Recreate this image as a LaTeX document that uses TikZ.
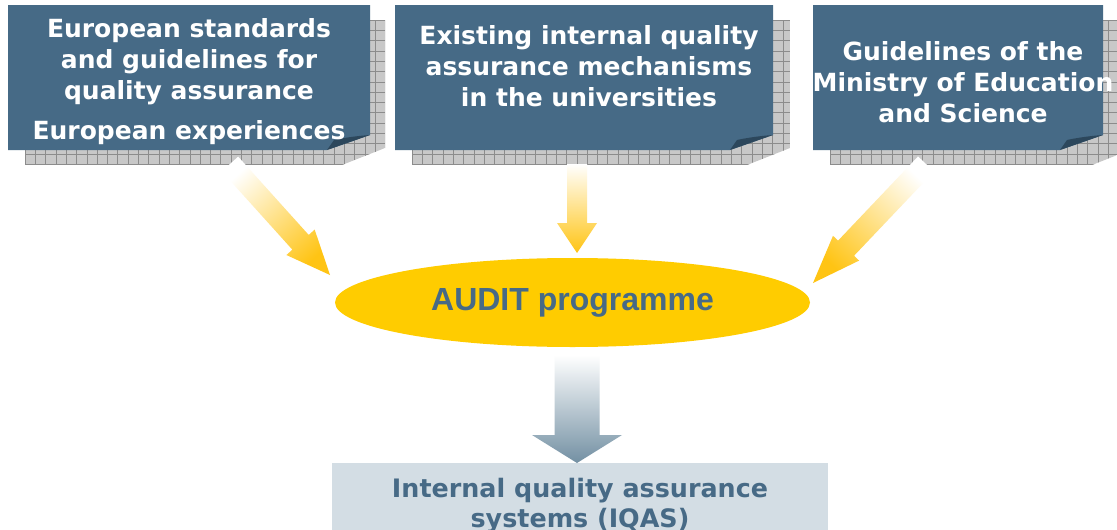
\documentclass[tikz,border=0pt]{standalone}
\usepackage{fontspec}
\usetikzlibrary{shapes.geometric,calc}
\newfontfamily\vfont{DejaVu Sans}
\newfontfamily\afont{Liberation Sans}
\definecolor{boxblue}{HTML}{466A86}
\definecolor{folddark}{HTML}{2C475C}
\definecolor{shadowgray}{HTML}{C8C8C8}
\definecolor{gridgray}{HTML}{8C8C8C}
\definecolor{audityellow}{HTML}{FFCC00}
\definecolor{arrowgold}{HTML}{FFC414}
\definecolor{textblue}{HTML}{476A86}
\definecolor{lowfill}{HTML}{D3DDE4}
\definecolor{downslate}{HTML}{7390A3}

\newcommand\blockarrow[6]{% #1 style, #2 tail, #3 tip, #4 half shaft, #5 half head, #6 head length
  \coordinate (hb) at ($(#3)!#6!(#2)$);
  \path[#1] ($(#2)!#4!90:(#3)$) -- ($(hb)!#4!90:(#3)$) -- ($(hb)!#5!90:(#3)$) -- (#3)
    -- ($(hb)!#5!-90:(#3)$) -- ($(hb)!#4!-90:(#3)$) -- ($(#2)!#4!-90:(#3)$) -- cycle;}

\newcommand\gridshadow[4]{% x1 y1 x2 y2, cut corner at bottom right
  \begin{scope}
    \clip (#1,#2) -- (#3,#2) -- (#3,#4-17) -- (#3-43,#4) -- (#1,#4) -- cycle;
    \fill[shadowgray] (#1,#2) rectangle (#3,#4);
    \foreach \k in {0,...,40} {\draw[gridline] ({#1+10.3*\k},#2) -- ({#1+10.3*\k},#4);}
    \foreach \k in {0,...,16} {\draw[gridline] (#1,{#2+10.3*\k}) -- (#3,{#2+10.3*\k});}
  \end{scope}}

\newcommand\foldbox[4]{% x1 y1 x2 y2
  \fill[boxblue] (#1,#2) -- (#3,#2) -- (#3,#4-15) -- (#3-43,#4) -- (#1,#4) -- cycle;
  \fill[folddark] (#3-43,#4) -- (#3,#4-15) .. controls (#3-14,#4-14) and (#3-27,#4-12) .. (#3-36,#4-10) -- cycle;}

\tikzset{
  gridline/.style={draw=gridgray, line width=0.6pt},
  boxtext/.style={text=white, align=center, font=\vfont\bfseries\fontsize{25}{31}\selectfont, inner sep=0pt},
  goldarrow/.style={bottom color=white, top color=arrowgold, middle color=arrowgold!50},
  auditnode/.style={ellipse, fill=audityellow, minimum width=475pt, minimum height=89pt, inner sep=0pt,
     text=textblue, font=\afont\bfseries\fontsize{32}{36}\selectfont},
  lowbox/.style={rectangle, fill=lowfill, minimum width=496pt, minimum height=86pt, inner sep=0pt,
     text=textblue, align=center, font=\vfont\bfseries\fontsize{25.4}{30}\selectfont}
}

\begin{document}
\begin{tikzpicture}[x=1pt,y=-1pt]
\clip (0,0) rectangle (1117,530);
\fill[white] (0,0) rectangle (1117,530);

% shadows
\gridshadow{25}{20}{385}{165}
\gridshadow{412}{20}{790}{165}
\gridshadow{830}{20}{1135}{165}

% boxes
\foldbox{8}{5}{370}{150}
\foldbox{395}{5}{773}{150}
\foldbox{813}{5}{1103}{150}

\node[boxtext] (b1) at (189,82) {European standards\\and guidelines for\\quality assurance\\[9pt]European experiences};
\node[boxtext] (b2) at (589,66) {Existing internal quality\\assurance mechanisms\\in the universities};
\node[boxtext] (b3) at (963,82) {Guidelines of the\\Ministry of Education\\and Science};

% ellipse
\node[auditnode] (audit) at (572.5,302.5) {AUDIT programme};

% bottom box
\node[lowbox] (iqas) at (580,506) {Internal quality assurance\\systems (IQAS)};

% arrows
\coordinate (t1) at (230,164);
\coordinate (h1) at (330,275);
\coordinate (t2) at (577,164);
\coordinate (h2) at (577,253);
\coordinate (t3) at (926,164);
\coordinate (h3) at (813,283);
\coordinate (t4) at (577,355);
\coordinate (h4) at (577,463);

\blockarrow{goldarrow, shading angle=-138}{t1}{h1}{11pt}{19pt}{44pt}
\blockarrow{goldarrow, shading angle=180}{t2}{h2}{10pt}{20pt}{30pt}
\blockarrow{goldarrow, shading angle=136.5}{t3}{h3}{11pt}{18pt}{48pt}
\blockarrow{top color=white, bottom color=downslate}{t4}{h4}{22.5pt}{45pt}{28pt}
\end{tikzpicture}
\end{document}
